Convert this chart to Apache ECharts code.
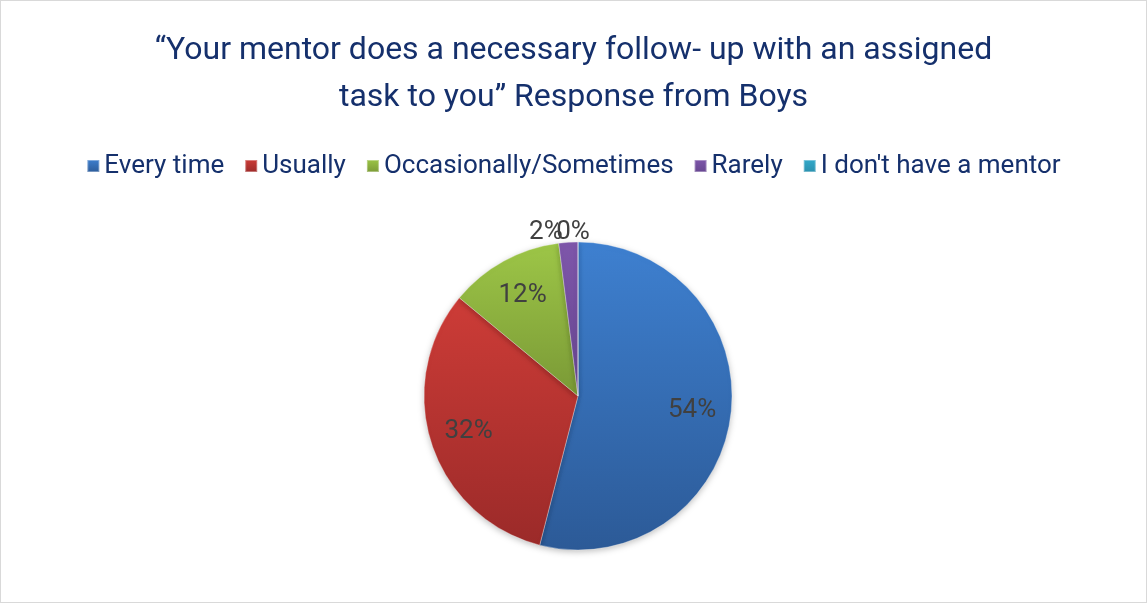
<!DOCTYPE html>
<html>
<head>
<meta charset="utf-8">
<script src="https://cdn.jsdelivr.net/npm/echarts@6/dist/echarts.min.js"></script>
<style>
  html, body { margin: 0; padding: 0; background: #fff; }
  #chart { width: 1145px; height: 601px; border: 1px solid #d9d9d9; }
</style>
</head>
<body>
<div id="chart"></div>
<script>
// 图表数据
const titleText = "\u201cYour mentor does a necessary follow- up with an assigned\ntask to you\u201d Response from Boys";
const categories = ["Every time", "Usually", "Occasionally/Sometimes", "Rarely", "I don't have a mentor"];
const values = [54, 32, 12, 2, 0];
// 渐变色 (上浅下深)
const topColors = ["#3e80d0", "#cd3c37", "#9dc647", "#7e56aa", "#33aacb"];
const bottomColors = ["#2c5a97", "#9b2a29", "#7a9936", "#66468f", "#2a8fad"];
const legendColors = ["#3a78c4", "#c0393a", "#92b944", "#7650a0", "#31a7c6"];

const myChart = echarts.init(document.getElementById("chart"));

function grad(i) {
  return {
    type: "linear", x: 0, y: 0, x2: 0, y2: 1,
    colorStops: [
      { offset: 0, color: topColors[i] },
      { offset: 1, color: bottomColors[i] },
    ],
  };
}

const pieData = categories.map((name, i) => ({
  name,
  value: values[i],
  itemStyle: { color: grad(i) },
}));

// 标签层：小扇区标签放在外面
const labelData = categories.map((name, i) => ({
  name,
  value: values[i],
  label: { position: values[i] < 5 ? "outside" : "inside" },
}));

const option = {
  color: legendColors,
  title: {
    text: titleText,
    left: "center",
    top: 21,
    textStyle: {
      fontFamily: "Roboto",
      fontSize: 32,
      fontWeight: "normal",
      color: "#15306c",
      lineHeight: 47,
    },
  },
  legend: {
    top: 147,
    left: "center",
    icon: "rect",
    itemWidth: 12,
    itemHeight: 12,
    itemGap: 20,
    textStyle: {
      fontFamily: "Roboto",
      fontSize: 26,
      color: "#15306c",
    },
    data: categories,
  },
  series: [
    {
      name: "pie",
      type: "pie",
      center: [577, 395],
      radius: 154,
      startAngle: 90,
      clockwise: true,
      silent: true,
      itemStyle: {
        borderColor: "rgba(255,255,255,0.35)",
        borderWidth: 0.5,
        shadowColor: "rgba(0,0,0,0.25)",
        shadowBlur: 6,
        shadowOffsetY: 2,
      },
      label: { show: false },
      labelLine: { show: false },
      data: pieData,
    },
    {
      name: "labels",
      type: "pie",
      center: [577, 395],
      radius: [70, 154],
      startAngle: 90,
      clockwise: true,
      avoidLabelOverlap: false,
      // 0% 标签居中放在顶部
      labelLayout: (params) =>
        values[params.dataIndex] === 0
          ? { hideOverlap: false, align: "center" }
          : { hideOverlap: false },
      silent: true,
      legendHoverLink: false,
      itemStyle: { color: "rgba(0,0,0,0)" },
      label: {
        show: true,
        formatter: "{c}%",
        fontFamily: "Roboto",
        fontSize: 26,
        color: "#404040",
      },
      labelLine: { show: false, length: 10, length2: 0 },
      data: labelData,
    },
  ],
};

myChart.setOption(option);
window.addEventListener("resize", () => myChart.resize());
</script>
</body>
</html>
